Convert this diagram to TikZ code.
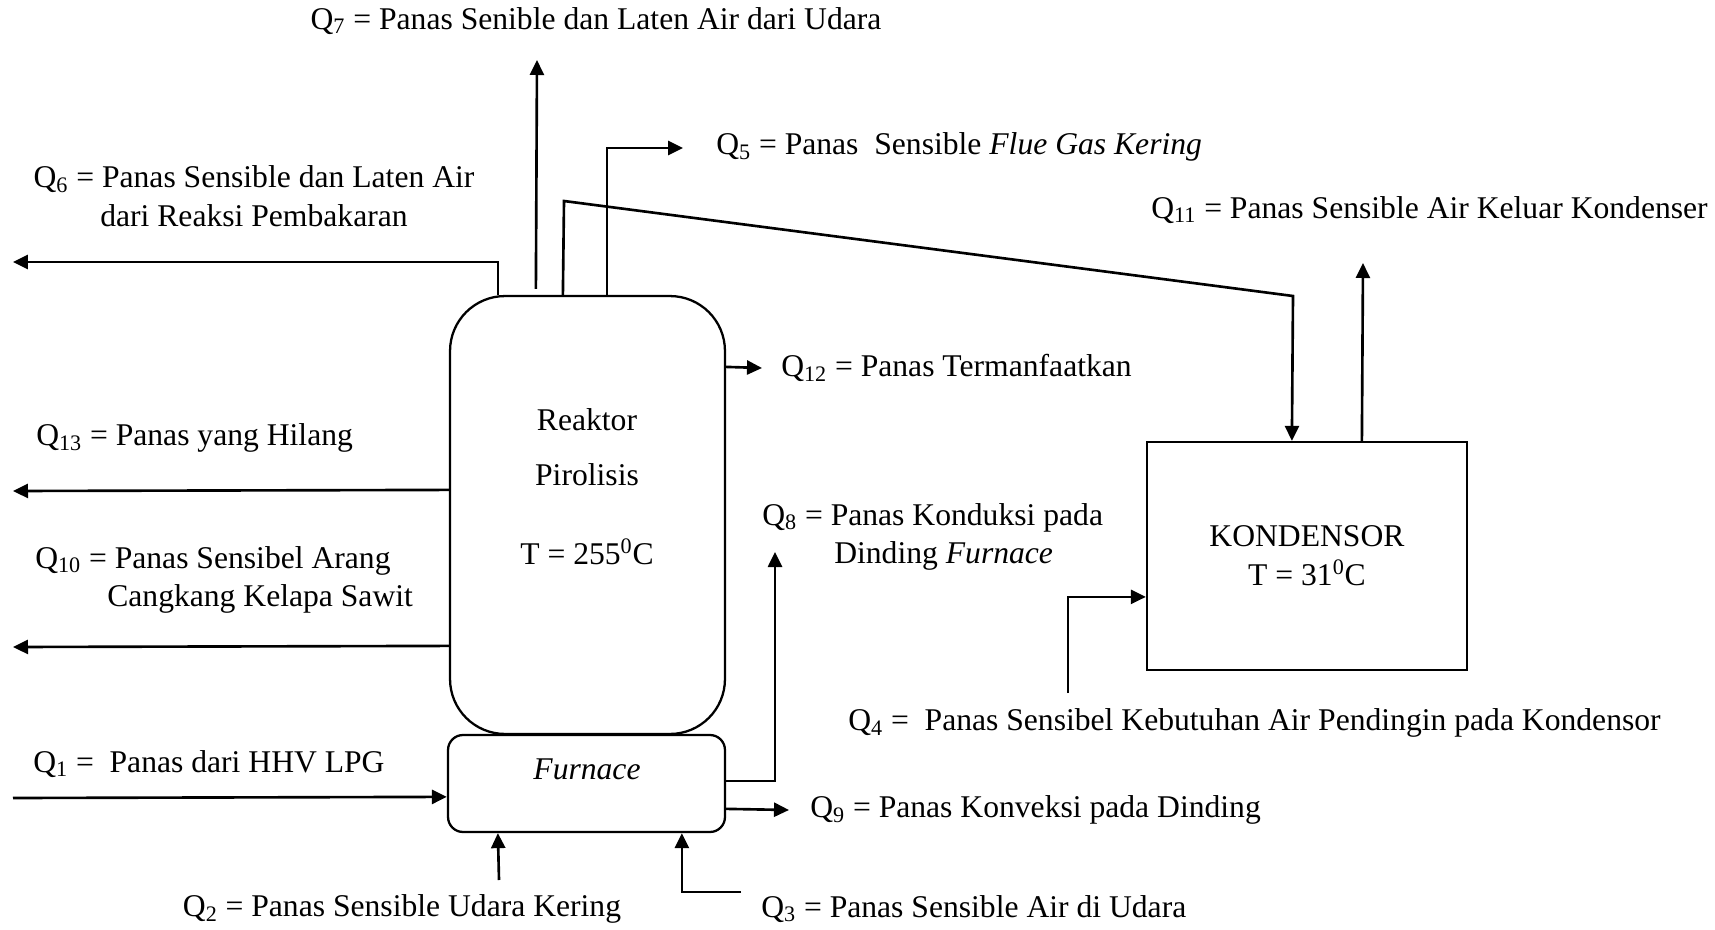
\documentclass[tikz,border=0pt]{standalone}
\usepackage{fontspec}
\setmainfont{Liberation Serif}
\usepackage{tikz}
\usetikzlibrary{positioning,arrows.meta,calc}

\begin{document}
\begin{tikzpicture}[x=0.02cm,y=-0.02cm,line width=1.5pt,>={Triangle[length=3mm,width=2.8mm]},
  font=\fontsize{18pt}{22pt}\selectfont,
  unit/.style={draw,inner sep=0pt,line width=1.3pt},
  lbl/.style={inner sep=0pt}]
\useasboundingbox (0,0) rectangle (1715,930);
% units
\node[unit,rounded corners=1.1cm,minimum width=5.5cm,minimum height=8.76cm] (reactor) at (587.5,515) {};
\node[unit,rounded corners=0.3cm,minimum width=5.54cm,minimum height=1.94cm] (furnace) at (586.5,783.5) {};
\node[unit,minimum width=6.4cm,minimum height=4.56cm,align=center] (kond) at (1307,556) {KONDENSOR\\T = 31\textsuperscript{0}C};
\node (rt1) at (587,420) {Reaktor};
\node (rt2) at (587,475) {Pirolisis};
\node (rt3) at (587,552) {T = 255\textsuperscript{0}C};
\node (ft) at (587,769) {\textit{Furnace}};
% free ends and bends
\coordinate (q6end) at (13,262);
\coordinate (q7end) at (537,60);
\coordinate (d1) at (564,201);
\coordinate (d2) at (1293,296);
\coordinate (q5end) at (683,148);
\coordinate (q11end) at (1363,263);
\coordinate (q12end) at (762,368);
\coordinate (q13end) at (13,491);
\coordinate (q10end) at (13,647);
\coordinate (q1start) at (13,798);
\coordinate (q8end) at (775,552);
\coordinate (q9end) at (789,810);
\coordinate (q2start) at (499,880);
\coordinate (q3start) at (741,892);
\coordinate (q4start) at (1068,693);
% streams
\draw[->] ($(reactor.north west)+(49,0)$) |- (q6end);
\draw[->] ($(reactor.north west)+(87,-6)$) -- (q7end);
\draw[->] ($(reactor.north west)+(114,0)$) -- (d1) -- (d2) -- ($(kond.north west)+(146,0)$);
\draw[->] ($(reactor.north west)+(158,0)$) |- (q5end);
\draw[->] ($(kond.north west)+(216,0)$) -- (q11end);
\draw[->] ($(reactor.north east)+(0,72)$) -- (q12end);
\draw[->] ($(reactor.north west)+(0,195)$) -- (q13end);
\draw[->] ($(reactor.north west)+(0,351)$) -- (q10end);
\draw[->] (q1start) -- ($(furnace.north west)+(0,63)$);
\draw[->] ($(furnace.north east)+(0,47)$) -| (q8end);
\draw[->] ($(furnace.north east)+(0,75)$) -- (q9end);
\draw[->] (q2start) -- ($(furnace.south west)+(51,0)$);
\draw[->] (q3start) -| ($(furnace.south west)+(235,0)$);
\draw[->] (q4start) |- ($(kond.north west)+(0,156)$);
% labels
\node[lbl] (q7lbl) at (596,21) {Q\textsubscript{7} = Panas Senible dan Laten Air dari Udara};
\node[lbl,anchor=west] (q5lbl) at (715,147) {Q\textsubscript{5} = Panas\ \ Sensible \textit{Flue Gas Kering}};
\node[lbl,align=center] (q6lbl) at (254,196) {Q\textsubscript{6} = Panas Sensible dan Laten Air\\dari Reaksi Pembakaran};
\node[lbl,anchor=west] (q11lbl) at (1150,210) {Q\textsubscript{11} = Panas Sensible Air Keluar Kondenser};
\node[lbl,anchor=west] (q12lbl) at (780,368) {Q\textsubscript{12} = Panas Termanfaatkan};
\node[lbl,anchor=west] (q13lbl) at (35,438) {Q\textsubscript{13} = Panas yang Hilang};
\node[lbl,anchor=west,align=left] (q10lbl) at (34,580) {Q\textsubscript{10} = Panas Sensibel Arang\\\hspace*{1.44cm}Cangkang Kelapa Sawit};
\node[lbl,anchor=west] (q1lbl) at (32,764) {Q\textsubscript{1} =\ \ Panas dari HHV LPG};
\node[lbl,anchor=west,align=left] (q8lbl) at (761,537) {Q\textsubscript{8} = Panas Konduksi pada\\\hspace*{1.44cm}Dinding \textit{Furnace}};
\node[lbl,anchor=west] (q9lbl) at (809,810) {Q\textsubscript{9} = Panas Konveksi pada Dinding};
\node[lbl] (q2lbl) at (402,909) {Q\textsubscript{2} = Panas Sensible Udara Kering};
\node[lbl,anchor=west] (q3lbl) at (760,909) {Q\textsubscript{3} = Panas Sensible Air di Udara};
\node[lbl,anchor=west] (q4lbl) at (847,723) {Q\textsubscript{4} =\ \ Panas Sensibel Kebutuhan Air Pendingin pada Kondensor};
\end{tikzpicture}
\end{document}
